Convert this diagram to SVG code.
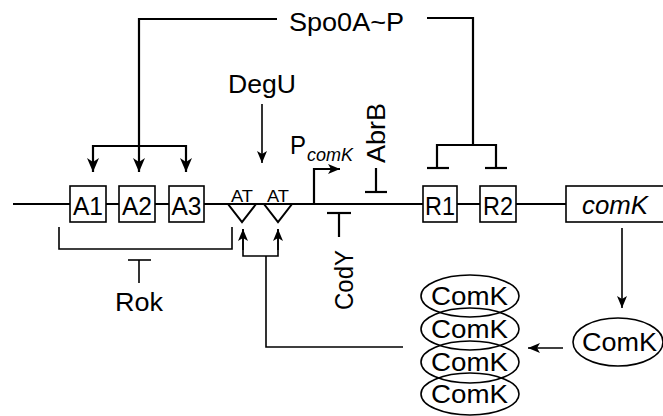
<svg xmlns="http://www.w3.org/2000/svg" width="663" height="416" viewBox="0 0 663 416">
<style>
text{font-family:"Liberation Sans",Arial,sans-serif;fill:#000}
.lbl{font-size:26px}
.bx{font-size:26px}
.box{fill:#fff;stroke:#000;stroke-width:1.6}
.ln{fill:none;stroke:#000;stroke-width:2.2}
.thin{fill:none;stroke:#000;stroke-width:1.6}
.ell{fill:none;stroke:#000;stroke-width:1.6}
.tri{fill:#fff;stroke:#000;stroke-width:2}
</style>
<defs>
<marker id="ah" viewBox="0 0 14 12" refX="14" refY="6" markerWidth="14" markerHeight="12" markerUnits="userSpaceOnUse" orient="auto">
<path d="M0,0 L14,6 L0,12 L4,6 z" fill="#000"/>
</marker>
<marker id="ahs" viewBox="0 0 12 10" refX="12" refY="5" markerWidth="12" markerHeight="10" markerUnits="userSpaceOnUse" orient="auto">
<path d="M0,0 L12,5 L0,10 L3,5 z" fill="#000"/>
</marker>
</defs>
<g id="connectors">
<line class="ln" x1="13" y1="204" x2="566" y2="204"/>
<polyline class="ln" points="277,19 139,19 139,172" marker-end="url(#ah)"/>
<line class="ln" x1="92" y1="146" x2="187" y2="146"/>
<line class="ln" x1="93" y1="145" x2="93" y2="172" marker-end="url(#ah)"/>
<line class="ln" x1="186" y1="145" x2="186" y2="172" marker-end="url(#ah)"/>
<polyline class="ln" points="427,18 473,18 473,145"/>
<polyline class="ln" points="437,168 437,145 496,145 496,168"/>
<line class="ln" x1="427" y1="168" x2="449" y2="168"/>
<line class="ln" x1="485" y1="168" x2="507" y2="168"/>
<line class="thin" x1="262" y1="104" x2="262" y2="163" marker-end="url(#ahs)"/>
<polyline class="ln" points="314,205 314,169 340,169" marker-end="url(#ahs)"/>
<line class="ln" x1="376" y1="168" x2="376" y2="192"/>
<line class="ln" x1="365" y1="192" x2="387" y2="192"/>
<line class="ln" x1="339" y1="213" x2="339" y2="237"/>
<line class="ln" x1="327" y1="213" x2="351" y2="213"/>
<polyline class="thin" points="59,227 59,249 232,249 232,227"/>
<line class="thin" x1="139" y1="283" x2="139" y2="260"/>
<line class="thin" x1="128" y1="260" x2="151" y2="260"/>
<polyline class="thin" points="403,347 266,347 266,256"/>
<polyline class="thin" points="243,229 243,256 278,256 278,229"/>
<line class="thin" x1="243" y1="250" x2="243" y2="229" marker-end="url(#ahs)"/>
<line class="thin" x1="278" y1="250" x2="278" y2="229" marker-end="url(#ahs)"/>
<line class="thin" x1="622" y1="228" x2="622" y2="308" marker-end="url(#ahs)"/>
<line class="thin" x1="563" y1="348" x2="528" y2="348" marker-end="url(#ahs)"/>
</g>
<g id="spo0a"><text class="lbl" x="289" y="31" textLength="115" lengthAdjust="spacingAndGlyphs">Spo0A~P</text></g>
<g id="degu"><text class="lbl" x="228" y="93" textLength="68" lengthAdjust="spacingAndGlyphs">DegU</text></g>
<g id="pcomk"><text class="lbl" x="290" y="154" textLength="16" lengthAdjust="spacingAndGlyphs">P</text><text x="307" y="161" font-size="19" font-style="italic" textLength="46" lengthAdjust="spacingAndGlyphs">comK</text></g>
<g id="abrb"><text class="lbl" transform="translate(385,133) rotate(-90)" x="-30" textLength="60" lengthAdjust="spacingAndGlyphs">AbrB</text></g>
<g id="cody"><text class="lbl" transform="translate(353,280) rotate(-90)" x="-30" textLength="60" lengthAdjust="spacingAndGlyphs">CodY</text></g>
<g id="rok"><text class="lbl" x="115" y="311" textLength="48" lengthAdjust="spacingAndGlyphs">Rok</text></g>
<g id="A1"><rect class="box" x="70" y="186" width="36" height="36"/><text class="bx" x="73" y="215" textLength="30" lengthAdjust="spacingAndGlyphs">A1</text></g>
<g id="A2"><rect class="box" x="119" y="186" width="36" height="36"/><text class="bx" x="122" y="215" textLength="30" lengthAdjust="spacingAndGlyphs">A2</text></g>
<g id="A3"><rect class="box" x="169" y="186" width="35" height="36"/><text class="bx" x="171.5" y="215" textLength="30" lengthAdjust="spacingAndGlyphs">A3</text></g>
<g id="AT1"><polygon class="tri" points="228,204 256,204 242,222"/><text x="231" y="202" font-size="16" textLength="22" lengthAdjust="spacingAndGlyphs">AT</text></g>
<g id="AT2"><polygon class="tri" points="264,204 292,204 278,222"/><text x="267" y="202" font-size="16" textLength="22" lengthAdjust="spacingAndGlyphs">AT</text></g>
<g id="R1"><rect class="box" x="423" y="186" width="34" height="36"/><text class="bx" x="425" y="215" textLength="30" lengthAdjust="spacingAndGlyphs">R1</text></g>
<g id="R2"><rect class="box" x="480" y="186" width="36" height="36"/><text class="bx" x="483" y="215" textLength="30" lengthAdjust="spacingAndGlyphs">R2</text></g>
<g id="comKgene"><rect class="box" x="566" y="186" width="110" height="36"/><text class="lbl" x="582" y="214" font-style="italic" textLength="66" lengthAdjust="spacingAndGlyphs">comK</text></g>
<g id="ComK"><ellipse class="ell" cx="618" cy="342" rx="45" ry="24"/><text class="lbl" x="582" y="351" textLength="75" lengthAdjust="spacingAndGlyphs">ComK</text></g>
<g id="ComK4">
<ellipse class="ell" cx="470" cy="296" rx="49" ry="21"/><text class="lbl" x="431" y="305" textLength="77" lengthAdjust="spacingAndGlyphs">ComK</text>
<ellipse class="ell" cx="470" cy="329" rx="49" ry="21"/><text class="lbl" x="431" y="338" textLength="77" lengthAdjust="spacingAndGlyphs">ComK</text>
<ellipse class="ell" cx="470" cy="362" rx="49" ry="21"/><text class="lbl" x="431" y="371" textLength="77" lengthAdjust="spacingAndGlyphs">ComK</text>
<ellipse class="ell" cx="470" cy="394" rx="49" ry="21"/><text class="lbl" x="431" y="403" textLength="77" lengthAdjust="spacingAndGlyphs">ComK</text>
</g>
</svg>
